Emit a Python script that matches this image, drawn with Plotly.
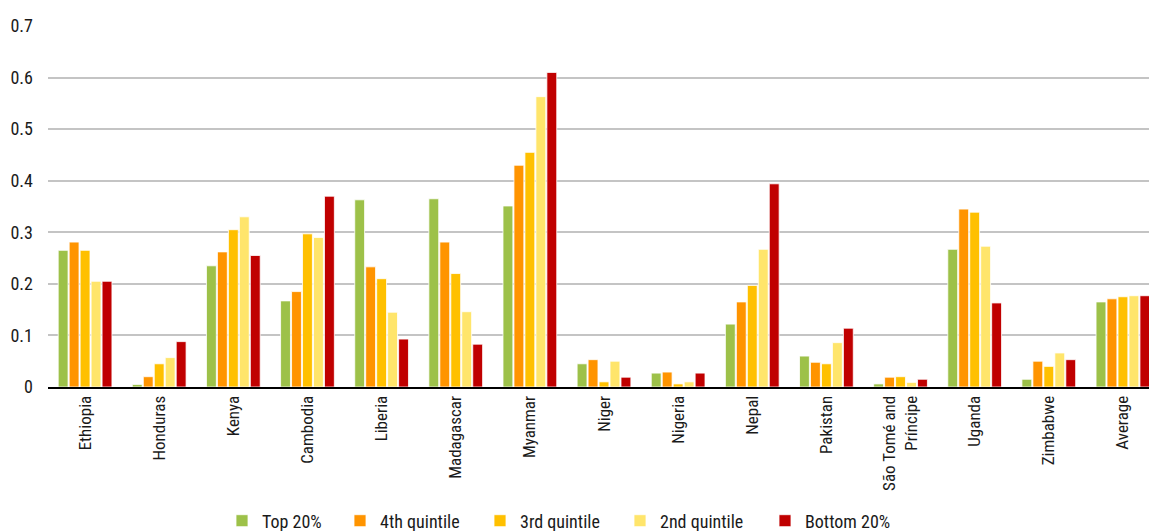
import plotly.graph_objects as go

countries = ["Ethiopia", "Honduras", "Kenya", "Cambodia", "Liberia", "Madagascar", "Myanmar",
             "Niger", "Nigeria", "Nepal", "Pakistan", "São Tomé and<br>Príncipe", "Uganda",
             "Zimbabwe", "Average"]

top20 = [0.265, 0.005, 0.235, 0.167, 0.363, 0.365, 0.351, 0.045, 0.027, 0.122, 0.060, 0.006, 0.267, 0.015, 0.165]
q4 = [0.281, 0.020, 0.262, 0.185, 0.233, 0.281, 0.430, 0.053, 0.029, 0.165, 0.048, 0.019, 0.345, 0.050, 0.171]
q3 = [0.265, 0.045, 0.305, 0.297, 0.210, 0.220, 0.455, 0.010, 0.006, 0.197, 0.045, 0.020, 0.339, 0.040, 0.175]
q2 = [0.205, 0.057, 0.330, 0.290, 0.145, 0.146, 0.563, 0.050, 0.010, 0.267, 0.086, 0.009, 0.273, 0.066, 0.177]
bottom20 = [0.205, 0.088, 0.255, 0.370, 0.093, 0.083, 0.610, 0.019, 0.027, 0.394, 0.114, 0.015, 0.163, 0.053, 0.177]

series_names = ["Top 20%", "4th quintile", "3rd quintile", "2nd quintile", "Bottom 20%"]
series_values = [top20, q4, q3, q2, bottom20]
series_colors = ["#9DC149", "#FF9400", "#FFC000", "#FFE56B", "#C00000"]
# left edge (px) of each legend label in the reference layout
legend_text_x = [262, 380, 520, 660, 805]

FONT = "Roboto Condensed, sans-serif"
W, H = 1160, 531  # plot area runs slightly past the right edge of the 1149px view

fig = go.Figure()
legend_layout = {}
for i, (name, vals, col) in enumerate(zip(series_names, series_values, series_colors)):
    key = "legend" if i == 0 else f"legend{i + 1}"
    fig.add_trace(go.Bar(x=countries, y=vals, name=name, legend=key, showlegend=True,
                         marker=dict(color=col, line=dict(color="white", width=0.8))))
    legend_layout[key] = dict(orientation="h", xref="container", yref="container",
                              x=(legend_text_x[i] - 40) / W, xanchor="left",
                              y=(H - 521) / H, yanchor="middle",
                              font=dict(size=18), itemwidth=30,
                              bgcolor="rgba(0,0,0,0)")

fig.update_layout(
    showlegend=True,
    barmode="group",
    bargap=0.26,
    bargroupgap=0.1,
    width=W, height=H,
    margin=dict(l=47.5, r=0, t=26, b=143.7, autoexpand=False),
    plot_bgcolor="white", paper_bgcolor="white",
    font=dict(family=FONT, size=17, color="#1a1a1a"),
    xaxis=dict(tickangle=-90, showline=True, linecolor="black", linewidth=2,
               ticks="", tickfont=dict(size=17)),
    yaxis=dict(range=[0, 0.7], dtick=0.1, showgrid=True,
               gridcolor="#c4c4c4", gridwidth=1.5, zeroline=False, tickfont=dict(size=18),
               ticklabelstandoff=14),
    **legend_layout,
)
fig.write_html("out.html",
               post_script="document.body.style.margin='0';document.body.style.overflow='hidden';",
               config={"displayModeBar": False})
